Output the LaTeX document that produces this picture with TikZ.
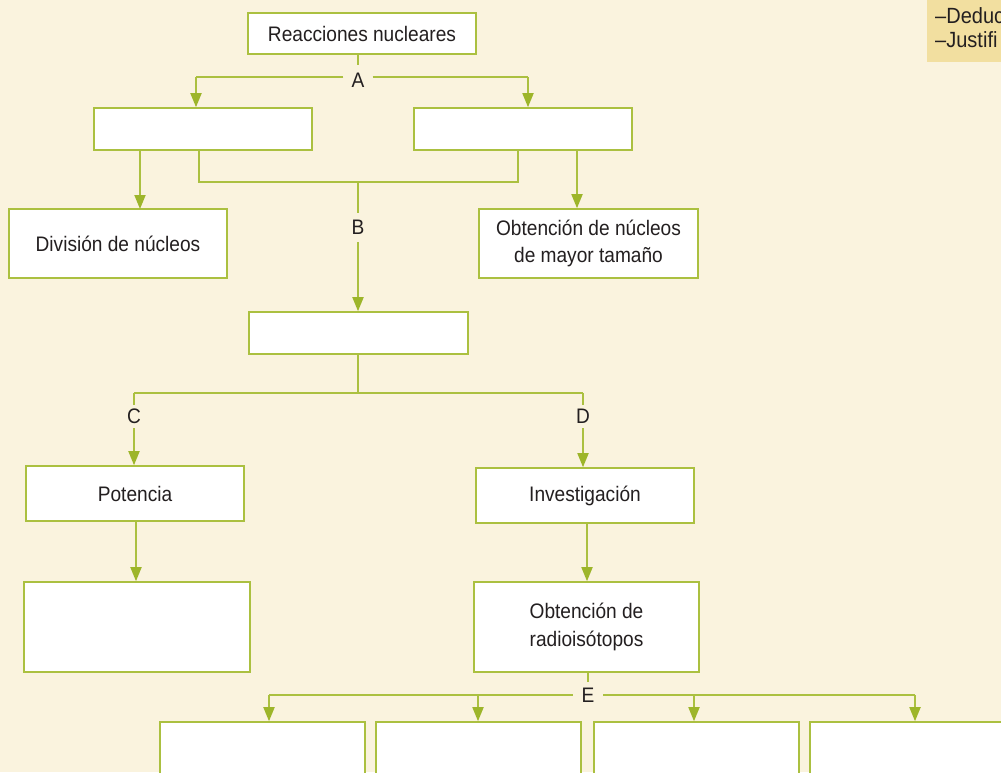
\documentclass[tikz,border=0pt]{standalone}
\usepackage{fontspec}
\setmainfont[FakeStretch=0.91]{Liberation Sans}
\usetikzlibrary{arrows.meta}
\definecolor{bgc}{HTML}{FAF3DE}
\definecolor{tanc}{HTML}{F2DFA0}
\definecolor{linec}{HTML}{ABC040}
\definecolor{arrc}{HTML}{9DB52A}
\definecolor{txtc}{HTML}{231F20}
\tikzset{
  box/.style={draw=linec, line width=1.6pt, fill=white, inner sep=0pt, text=txtc,
    align=center, font=\fontsize{21}{27.5}\selectfont},
  lbl/.style={fill=bgc, inner sep=0pt, text=txtc, font=\fontsize{21}{25}\selectfont},
  conn/.style={draw=linec, line width=1.8pt},
  arr/.style={conn, -{Triangle[width=11pt,length=14pt,color=arrc]}},
}
\begin{document}
\begin{tikzpicture}[x=1pt,y=-1pt]
\clip (0,0) rectangle (1001,772);
\fill[bgc] (0,0) rectangle (1001,772);
% top-right note
\fill[tanc] (927,0) rectangle (1001,62);
\node[anchor=west, text=txtc, align=left, inner sep=0pt,
  font=\fontsize{22}{24}\selectfont] (note) at (935,28) {–Deduc\\–Justifi};

% boxes
\node[box, minimum width=228pt, minimum height=41pt] (R) at (362,33.5) {Reacciones nucleares};
\node[box, minimum width=218pt, minimum height=42pt] (L1) at (203,129) {};
\node[box, minimum width=218pt, minimum height=42pt] (R1) at (523,129) {};
\node[box, minimum width=218pt, minimum height=69pt] (Div) at (118,243.5) {División de núcleos};
\node[box, minimum width=219pt, minimum height=69pt] (Obt) at (588.5,243.5) {Obtención de núcleos\\de mayor tamaño};
\node[box, minimum width=219pt, minimum height=42pt] (Mid) at (358.5,333) {};
\node[box, minimum width=218pt, minimum height=55pt] (Pot) at (135,493.5) {Potencia};
\node[box, minimum width=218pt, minimum height=55pt] (Inv) at (585,495.5) {Investigación};
\node[box, minimum width=226pt, minimum height=90pt] (Emp) at (137,627) {};
\node[box, minimum width=225pt, minimum height=90pt] (Rad) at (586.5,627) {Obtención de\\radioisótopos};
\node[box, minimum width=205pt, minimum height=90pt] (E1) at (262.5,767) {};
\node[box, minimum width=205pt, minimum height=90pt] (E2) at (478.5,767) {};
\node[box, minimum width=205pt, minimum height=90pt] (E3) at (696.5,767) {};
\node[box, minimum width=205pt, minimum height=90pt] (E4) at (912.5,767) {};

% labels
\node[lbl, minimum width=29pt, minimum height=31pt] (A) at (358,80.5) {A};
\node[lbl, minimum width=20pt, minimum height=29pt] (B) at (358,227.5) {B};
\node[lbl, minimum width=20pt, minimum height=23pt] (C) at (134,416.5) {C};
\node[lbl, minimum width=20pt, minimum height=23pt] (D) at (583,416.5) {D};
\node[lbl, minimum width=30pt, minimum height=26pt] (E) at (588,695) {E};

% coordinates
\coordinate (a1) at (196,77);
\coordinate (a2) at (528,77);
\coordinate (b1) at (199,182);
\coordinate (b2) at (518,182);
\coordinate (b0) at (358,182);
\coordinate (c0) at (358,393);
\coordinate (c1) at (134,393);
\coordinate (d1) at (583,393);
\coordinate (e1) at (269,695);
\coordinate (e2) at (478,695);
\coordinate (e3) at (694,695);
\coordinate (e4) at (915,695);

% A
\draw[conn] (A |- R.south) -- (A.north);
\draw[conn] (A.west |- a1) -- (a1);
\draw[conn] (A.east |- a2) -- (a2);
\draw[arr] (a1) -- (a1 |- L1.north);
\draw[arr] (a2) -- (a2 |- R1.north);
% L1/R1
\draw[arr] (140,150) -- (140,209);
\draw[arr] (R1.south -| 577,0) -- (Obt.north -| 577,0);
\draw[conn] (b1 |- L1.south) -- (b1) -- (b2) -- (b2 |- R1.south);
\draw[conn] (b0) -- (B.north);
\draw[arr] (B.south) -- (B |- Mid.north);
% Mid
\draw[conn] (Mid.south -| c0) -- (c0);
\draw[conn] (c1) -- (d1);
\draw[conn] (c1) -- (C.north);
\draw[conn] (d1) -- (D.north);
\draw[arr] (C.south) -- (C |- Pot.north);
\draw[arr] (D.south) -- (D |- Inv.north);
% Pot / Inv
\draw[arr] (Pot.south -| 136,0) -- (Emp.north -| 136,0);
\draw[arr] (Inv.south -| 587,0) -- (Rad.north -| 587,0);
% E
\draw[conn] (Rad.south -| E) -- (E.north);
\draw[conn] (e1) -- (E.west |- e1);
\draw[conn] (E.east |- e4) -- (e4);
\draw[arr] (e1) -- (e1 |- E1.north);
\draw[arr] (e2) -- (e2 |- E2.north);
\draw[arr] (e3) -- (e3 |- E3.north);
\draw[arr] (e4) -- (e4 |- E4.north);
\end{tikzpicture}
\end{document}
